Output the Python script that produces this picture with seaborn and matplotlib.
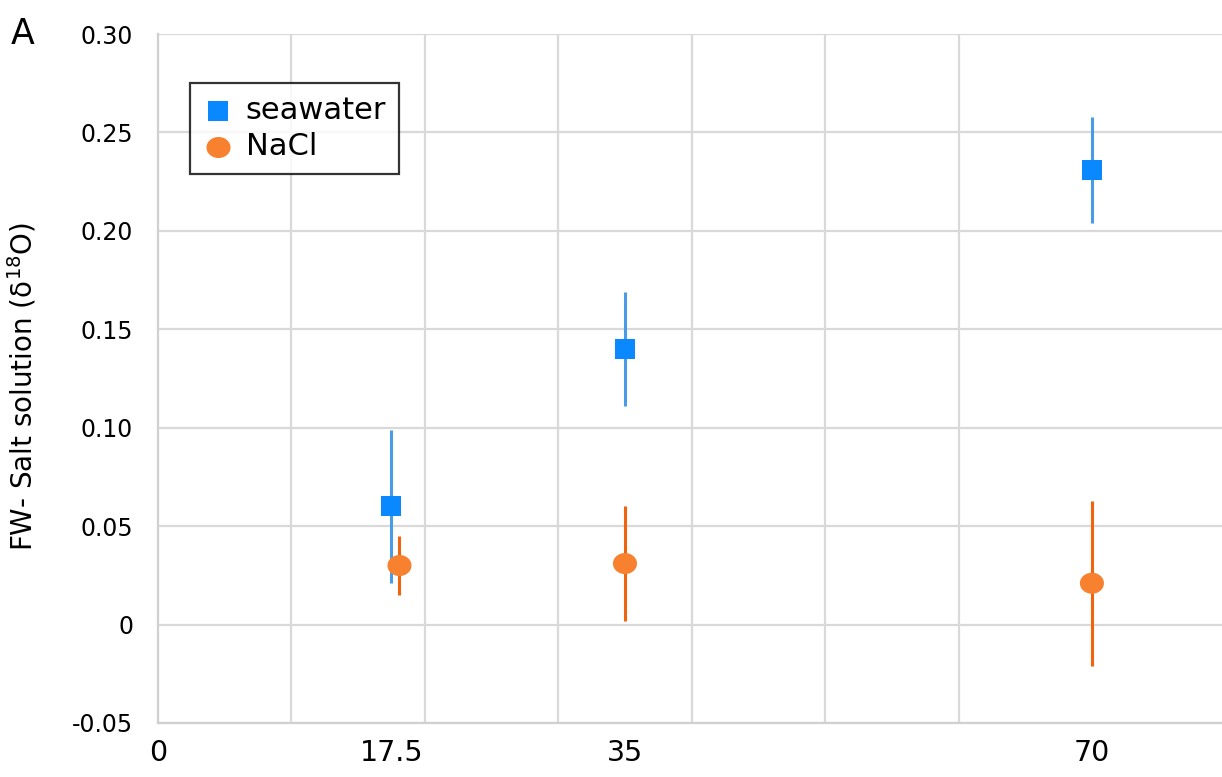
import numpy as np
import pandas as pd
import matplotlib
matplotlib.use("Agg")
import matplotlib.pyplot as plt
import seaborn as sns

# salt concentrations (NaCl slightly offset at 17.5 in the original)
seawater_x = [17.5, 35, 70]
seawater_y = [0.060, 0.140, 0.231]
seawater_err = [0.039, 0.029, 0.027]

nacl_x = [18.1, 35, 70]
nacl_y = [0.030, 0.031, 0.021]
nacl_err = [0.015, 0.029, 0.042]

xtick_vals = [0, 17.5, 35, 70]
xtick_labels = ["0", "17.5", "35", "70"]
ytick_vals = [-0.05, 0, 0.05, 0.10, 0.15, 0.20, 0.25, 0.30]
ytick_labels = ["-0.05", "0", "0.05", "0.10", "0.15", "0.20", "0.25", "0.30"]

df = pd.DataFrame({
    "x": seawater_x + nacl_x,
    "y": seawater_y + nacl_y,
    "err": seawater_err + nacl_err,
    "solution": ["seawater"] * 3 + ["NaCl"] * 3,
})

colors = {"seawater": "#0a88ff", "NaCl": "#f7812f"}
err_colors = {"seawater": "#4a9be6", "NaCl": "#f0630f"}

sns.set_style("white", {"text.color": "black", "axes.labelcolor": "black",
                        "xtick.color": "black", "ytick.color": "black"})
plt.rcParams["font.family"] = ["DejaVu Sans"]

fig = plt.figure(figsize=(12.22, 7.77), dpi=100)
ax = fig.add_axes([0.1293, 0.0695, 0.8707, 0.8867])

# error bars first, markers on top
for name, sub in df.groupby("solution", sort=False):
    ax.errorbar(sub["x"], sub["y"], yerr=sub["err"], fmt="none",
                ecolor=err_colors[name], elinewidth=2.2, capsize=0, zorder=3)

ell = [(np.cos(t), 0.875 * np.sin(t)) for t in np.linspace(0, 2 * np.pi, 60)]
sns.scatterplot(data=df, x="x", y="y", hue="solution", style="solution",
                palette=colors, markers={"seawater": "s", "NaCl": ell},
                size="solution", sizes={"seawater": 207, "NaCl": 300},
                linewidth=0, ax=ax, zorder=4, legend=False)

# legend by hand so marker sizes match
h1 = ax.scatter([], [], marker="s", s=207, color=colors["seawater"], linewidth=0)
h2 = ax.scatter([], [], marker=ell, s=300, color=colors["NaCl"], linewidth=0)
leg = ax.legend([h1, h2], ["seawater", "NaCl"], loc="upper left",
                bbox_to_anchor=(0.030, 0.929), fontsize=22, frameon=True,
                fancybox=False, handletextpad=0.4, borderpad=0.42,
                labelspacing=0.25, handlelength=1.0, borderaxespad=0)
leg.get_frame().set_edgecolor("black")
leg.get_frame().set_linewidth(1.6)

ax.set_xlim(0, 79.75)
ax.set_ylim(-0.05, 0.30)
ax.set_xticks(np.arange(0, 80, 10), minor=True)
ax.set_xticks(xtick_vals)
ax.set_xticklabels(xtick_labels, fontsize=20.5)
ax.set_yticks(ytick_vals)
ax.set_yticklabels(ytick_labels, fontsize=17)

ax.grid(which="minor", axis="x", color="#d9d9d9", linewidth=1.6)
ax.grid(which="major", axis="y", color="#d9d9d9", linewidth=1.6)
ax.tick_params(axis="x", which="major", direction="inout", length=17,
               width=1.6, color="#a0a0a0", pad=3)
ax.tick_params(axis="x", which="minor", length=0)
ax.tick_params(axis="y", length=0, pad=18)
for sp in ["top", "right"]:
    ax.spines[sp].set_visible(False)
for sp in ["left", "bottom"]:
    ax.spines[sp].set_color("#d0d0d0")
    ax.spines[sp].set_linewidth(1.6)
ax.set_axisbelow(True)

ax.set_xlabel("")
ax.set_ylabel("")
fig.text(33 / 1222, 1 - 387 / 777, "FW- Salt solution (δ$^{18}$O)", fontsize=20,
         rotation=90, rotation_mode="anchor", ha="center", va="baseline")
fig.text(0.009, 0.943, "A", fontsize=25)

fig.savefig("out.png", dpi=100)
